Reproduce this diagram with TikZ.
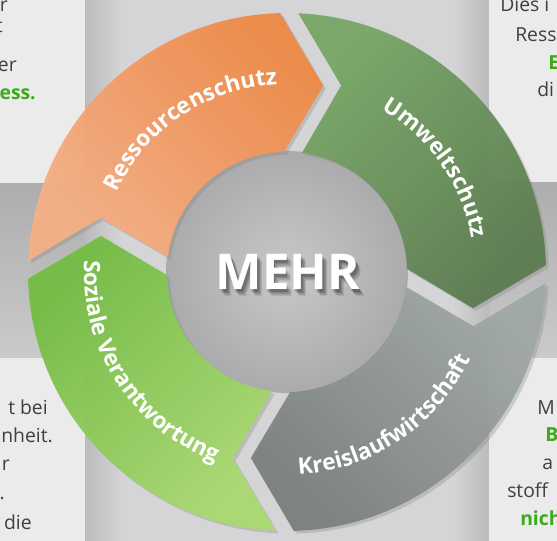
\documentclass[tikz,border=0pt]{standalone}
\usepackage{fontspec}
\setmainfont{Open Sans}
\usetikzlibrary{calc,decorations.text,shadows}

\definecolor{bgmid}{HTML}{D5D5D7}
\definecolor{bgdark}{HTML}{BBBBBD}
\definecolor{panelgray}{HTML}{EBEBEB}
\definecolor{stripdark}{HTML}{ADADAD}
\definecolor{stripmid}{HTML}{CACACA}
\definecolor{textgray}{HTML}{3F3F3F}
\definecolor{textgreen}{HTML}{3DA91D}
\definecolor{diskL}{HTML}{C8C8CA}
\definecolor{diskD}{HTML}{ABABAD}
\definecolor{orangeD}{HTML}{EE8A47}
\definecolor{orangeM}{HTML}{F0985C}
\definecolor{orangeL}{HTML}{F6B087}
\definecolor{dgreenL}{HTML}{78A866}
\definecolor{dgreenM}{HTML}{53963F}
\definecolor{dgreenD}{HTML}{5D7C51}
\definecolor{grayL}{HTML}{A0A8A7}
\definecolor{grayM}{HTML}{8C9391}
\definecolor{grayD}{HTML}{7B807F}
\definecolor{lgreenD}{HTML}{74BD44}
\definecolor{lgreenM}{HTML}{8ECB55}
\definecolor{lgreenL}{HTML}{ABDA72}

\newcommand{\ringfont}{\fontsize{17}{20}\selectfont\bfseries}
\newcommand{\mehrfont}{\fontsize{37}{40}\selectfont\bfseries}
\newcommand{\panelfont}{\fontsize{14.5}{18}\selectfont}

\begin{document}
\begin{tikzpicture}[x=0.75pt,y=0.75pt,
  panel/.style={fill=panelgray},
  paneltext/.style={inner sep=0pt,text=textgray,font=\panelfont},
  panelgreen/.style={paneltext,text=textgreen,font=\panelfont\bfseries},
  ringarrow/.style={opacity=0.95,drop shadow={shadow xshift=2pt,shadow yshift=-2pt,opacity=0.3}},
  ringlabel/.style={decorate,decoration={text along path,text={|\ringfont|#1},text align=center,text color=white}}]

  \useasboundingbox (-287,-269) rectangle (270,272);
  \clip (-287,-269) rectangle (270,272);

  %% background
  \fill[bgmid] (-287,-269) rectangle (270,272);
  \shade[left color=bgdark,right color=bgmid] (-202,-269) rectangle (-165,272);
  \shade[left color=bgmid,right color=bgdark] (165,-269) rectangle (202,272);
  \shade[top color=stripdark,bottom color=stripmid] (-287,89) rectangle (-202,-86);
  \shade[top color=stripdark,bottom color=stripmid] (202,90) rectangle (270,-86);
  \fill[panel] (-287,89) rectangle (-202,272);
  \fill[panel] (-287,-86) rectangle (-202,-269);
  \fill[panel] (202,90) rectangle (270,272);
  \fill[panel] (202,-86) rectangle (270,-269);

  %% text of the panels
  \node (TLone) [paneltext,anchor=base east] at (-279,260) {r};
  \node (TLtwo) [paneltext,anchor=base east] at (-284,239) {t};
  \node (TLthree) [paneltext,anchor=base east] at (-270,200) {er};
  \node (TLfour) [panelgreen,anchor=base east] at (-251,172) {ess.};

  \node (TRone) [paneltext,anchor=base west] at (213,260) {Dies i};
  \node (TRtwo) [paneltext,anchor=base west] at (228,230) {Ress};
  \node (TRthree) [panelgreen,anchor=base west] at (261,202) {E};
  \node (TRfour) [paneltext,anchor=base west] at (250,175) {di};

  \node (BLone) [paneltext,anchor=base east] at (-239,-143) {t bei};
  \node (BLtwo) [paneltext,anchor=base east] at (-234,-171) {nheit.};
  \node (BLthree) [paneltext,anchor=base east] at (-277,-199) {r};
  \node (BLfour) [paneltext,anchor=base east] at (-282,-228) {.};
  \node (BLfive) [paneltext,anchor=base east] at (-255,-258) {die};

  \node (BRone) [paneltext,anchor=base west] at (250,-143) {M};
  \node (BRtwo) [panelgreen,anchor=base west] at (258,-170) {B};
  \node (BRthree) [paneltext,anchor=base west] at (255,-198) {a};
  \node (BRfour) [paneltext,anchor=base west] at (220,-226) {stoff};
  \node (BRfive) [panelgreen,anchor=base west] at (233,-254) {nich};

  %% centre disk
  \shade[inner color=diskL,outer color=diskD] (0,0) circle[radius=121];

  %% the four arrows of the ring
  \foreach \rot/\ca/\cm/\cb/\sa in {91.5/orangeD/orangeM/orangeL/-45,
      1.5/dgreenL/dgreenM/dgreenD/45, -88.5/grayL/grayM/grayD/-45,
      -178.5/lgreenD/lgreenM/lgreenL/45}
    \path[ringarrow,top color=\ca,middle color=\cm,bottom color=\cb,shading angle=\sa]
      ({\rot+81.37}:120) -- ($({\rot+77.5}:189.5)+(\rot:18)$) -- ({\rot+86.02}:259)
      arc[start angle={\rot+86.02},end angle=\rot,radius=259]
      -- ({\rot-12.5}:189.5) -- (\rot:120)
      arc[start angle=\rot,end angle={\rot+81.37},radius=120] -- cycle;

  %% labels along the ring
  \path[ringlabel=Ressourcenschutz] (184:188) arc[start angle=184,end angle=64,radius=188];
  \path[ringlabel=Umweltschutz] (95:188) arc[start angle=95,end angle=-25,radius=188];
  \path[ringlabel=Kreislaufwirtschaft] (-116:203) arc[start angle=-116,end angle=4,radius=203];
  \path[ringlabel=Soziale Verantwortung] (-207:203) arc[start angle=-207,end angle=-87,radius=203];

  %% MEHR with its shadow
  \foreach \s in {1,...,6}
    \node[font=\mehrfont,text=black,text opacity=0.09] at ({1+\s*0.8},{-1.5-\s*0.9}) {MEHR};
  \node (Mehr) [font=\mehrfont,text=white] at (1,0) {MEHR};

\end{tikzpicture}
\end{document}
